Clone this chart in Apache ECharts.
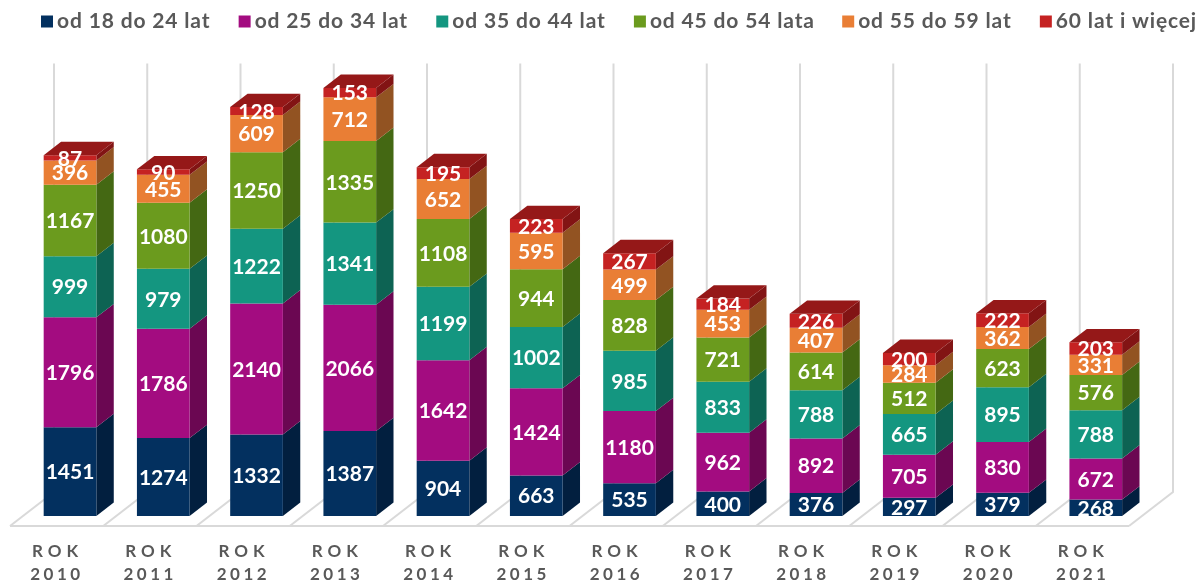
<!DOCTYPE html>
<html><head><meta charset="utf-8">
<style>html,body{margin:0;padding:0;background:#fff}#c{width:1200px;height:580px}</style>
<script src="https://cdn.jsdelivr.net/npm/echarts@6/dist/echarts.min.js"></script>
</head><body><div id="c"></div>
<script>
const years = ['2010','2011','2012','2013','2014','2015','2016','2017','2018','2019','2020','2021'];
const age18 = [1451,1274,1332,1387,904,663,535,400,376,297,379,268];
const age25 = [1796,1786,2140,2066,1642,1424,1180,962,892,705,830,672];
const age35 = [999,979,1222,1341,1199,1002,985,833,788,665,895,788];
const age45 = [1167,1080,1250,1335,1108,944,828,721,614,512,623,576];
const age55 = [396,455,609,712,652,595,499,453,407,284,362,331];
const age60 = [87,90,128,153,195,223,267,184,226,200,222,203];
const names = ['od 18 do 24 lat','od 25 do 34 lat','od 35 do 44 lat','od 45 do 54 lata','od 55 do 59 lat','60 lat i więcej'];
const values = [age18,age25,age35,age45,age55,age60];
const front = ['#03305F','#A30C80','#149680','#6B9B1E','#E97E35','#C52222'];
const side  = ['#021F3F','#6B0752','#0D6353','#446813','#925322','#821414'];
const topFace = '#951818';
const FONT = 'Lato, sans-serif';

// letter-spacing for the axis and legend text (zrender has no such option)
const origFill = CanvasRenderingContext2D.prototype.fillText;
CanvasRenderingContext2D.prototype.fillText = function(t,x,y,m){
  const s = String(t);
  let sp = 0, shift = 0;
  if (s === 'ROK') { sp = 5; shift = 1; }
  else if (years.indexOf(s) >= 0) { sp = 3.5; shift = 0.25; }
  else if (names.indexOf(s) >= 0) { sp = 0.85; }
  this.letterSpacing = sp + 'px';
  return m === undefined ? origFill.call(this,t,x+shift,y) : origFill.call(this,t,x+shift,y,m);
};

// depth of the 3D box and of the bars inside it, pixels on screen
const BAR = {dx:13.4, dy:-10, depthX:17.4, depthY:-13.4, ratio:0.565};
const BACK = {dx:44, dy:-34};
const YMAX = 7000;

function renderWall(params, api){
  const i = api.value(0);
  const band = api.size([1,0])[0];
  const p0 = api.coord([i,0]), p1 = api.coord([i,YMAX]);
  const line = {stroke:'#D9D9D9', lineWidth:2, fill:null};
  const mk = x => ({type:'polyline', silent:true, shape:{points:[[x,p0[1]],[x+BACK.dx,p0[1]+BACK.dy],[x+BACK.dx,p1[1]+BACK.dy]]}, style:line});
  const kids = [mk(p0[0]-band/2)];
  if (i === years.length-1) {
    kids.push(mk(p0[0]+band/2));
    kids.push({type:'line', silent:true, shape:{x1:p0[0]-band*(years.length-0.5),y1:p0[1],x2:p0[0]+band/2,y2:p0[1]}, style:line});
  }
  return {type:'group', children:kids};
}

function makeBar(sIdx){
  return function(params, api){
    const i = api.value(0), lo = api.value(1), hi = api.value(2), val = api.value(3);
    const band = api.size([1,0])[0];
    const w = band*BAR.ratio;
    const a = api.coord([i,lo]), b = api.coord([i,hi]);
    const xl = a[0]-w/2+BAR.dx, xr = a[0]+w/2+BAR.dx;
    const y0 = a[1]+BAR.dy, y1 = b[1]+BAR.dy;
    const dx = BAR.depthX, dy = BAR.depthY;
    const kids = [
      {type:'polygon', shape:{points:[[xr,y0],[xr+dx,y0+dy],[xr+dx,y1+dy],[xr,y1]]}, style:{fill:side[sIdx]}},
      {type:'polygon', shape:{points:[[xl,y0],[xr,y0],[xr,y1],[xl,y1]]}, style:{fill:front[sIdx]}}
    ];
    if (sIdx === values.length-1) {
      kids.push({type:'polygon', shape:{points:[[xl,y1],[xr,y1],[xr+dx,y1+dy],[xl+dx,y1+dy]]}, style:{fill:topFace}});
    }
    kids.push({type:'text', z2:100, silent:true, style:{
      text:String(val), x:(xl+xr)/2, y:(y0+y1)/2+1,
      align:'center', verticalAlign:'middle', textAlign:'center', textVerticalAlign:'middle',
      fill:'#fff', fontSize:21, fontWeight:'bold', fontFamily:FONT}});
    return {type:'group', children:kids};
  };
}

const series = [{
  name:'wall', type:'custom', silent:true, z:1,
  renderItem:renderWall,
  data:years.map((y,i)=>[i,0,YMAX]),
  encode:{x:0,y:[1,2]}
}];
const running = years.map(()=>0);
values.forEach((arr,s)=>{
  series.push({
    name:names[s], type:'custom', z:2, renderItem:makeBar(s),
    itemStyle:{color:front[s]},
    encode:{x:0,y:[1,2]},
    data:arr.map((v,i)=>{const lo=running[i]; running[i]+=v; return [i,lo,running[i],v];})
  });
});

const chart = echarts.init(document.getElementById('c'),null,{renderer:'canvas',width:1200,height:580});
chart.setOption({
  animation:false,
  backgroundColor:'#fff',
  grid:{left:10,width:1119,top:526-428.4,height:428.4,containLabel:false,outerBoundsMode:'none'},
  legend:{data:names,left:36,top:6,icon:'rect',itemWidth:12,itemHeight:12,itemGap:41,selectedMode:false,
    textStyle:{color:'#595959',fontSize:21,fontWeight:'bold',fontFamily:FONT,padding:[0,0,0,-1]}},
  xAxis:{type:'category',data:years,axisLine:{show:false},axisTick:{show:false},splitLine:{show:false},
    axisLabel:{interval:0,margin:14,color:'#595959',fontSize:17,fontWeight:'bold',fontFamily:FONT,lineHeight:23,
      formatter:v=>'ROK\n'+v}},
  yAxis:{type:'value',min:0,max:YMAX,show:false},
  series:series
});
</script></body></html>
